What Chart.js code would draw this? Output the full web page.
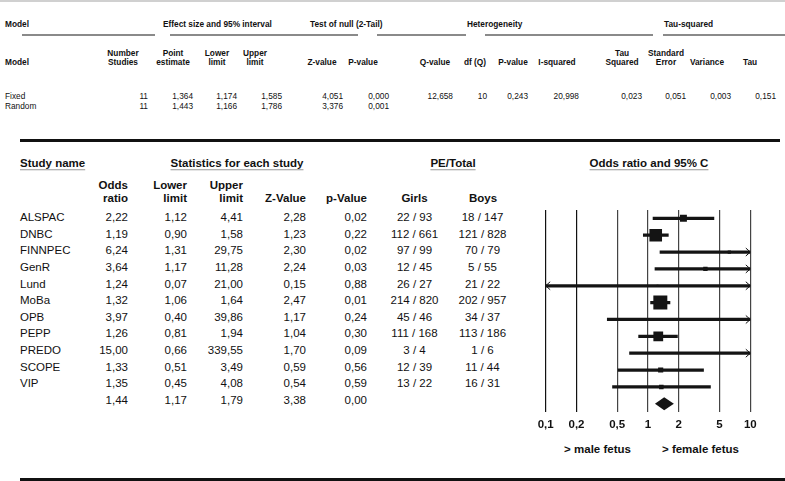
<!DOCTYPE html>
<html>
<head>
<meta charset="utf-8">
<script src="https://cdn.jsdelivr.net/npm/chart.js@4/dist/chart.umd.min.js"></script>
<style>
  html, body { margin: 0; padding: 0; background: #fff; }
  #page { position: relative; width: 785px; height: 481px; overflow: hidden; background: #fff; }
  .t { position: absolute; white-space: nowrap; line-height: 1; color: #111; }
  .top { font-family: "Liberation Sans", Arial, sans-serif; font-size: 8.3px; }
  .b { font-weight: bold; }
  .low { font-family: "Liberation Sans", Arial, sans-serif; font-size: 11.5px; }
  .u { text-decoration: underline; text-decoration-color: #999; text-underline-offset: 2px; }
  .rule { position: absolute; }
  #chartBox { position: absolute; left: 530px; top: 200px; width: 240px; height: 243px; }
</style>
</head>
<body>
<div id="page">
  <div id="chartBox"><canvas id="c" width="240" height="243"></canvas></div>
</div>
<script>
// ---------- data: summary (top) table ----------
const modelNames = ['Fixed', 'Random'];
const numberStudies = [11, 11];
const pointEstimate = [1.364, 1.443];
const modelLower = [1.174, 1.166];
const modelUpper = [1.585, 1.786];
const modelZ = [4.051, 3.376];
const modelP = [0.000, 0.001];
const qValue = 12.658;
const dfQ = 10;
const hetP = 0.243;
const iSquared = 20.998;
const tauSquared = 0.023;
const tauSE = 0.051;
const tauVariance = 0.003;
const tauValue = 0.151;

// ---------- data: study table / forest plot ----------
const studies = ['ALSPAC', 'DNBC', 'FINNPEC', 'GenR', 'Lund', 'MoBa', 'OPB', 'PEPP', 'PREDO', 'SCOPE', 'VIP'];
const oddsRatio = [2.22, 1.19, 6.24, 3.64, 1.24, 1.32, 3.97, 1.26, 15.00, 1.33, 1.35];
const lowerLimit = [1.12, 0.90, 1.31, 1.17, 0.07, 1.06, 0.40, 0.81, 0.66, 0.51, 0.45];
const upperLimit = [4.41, 1.58, 29.75, 11.28, 21.00, 1.64, 39.86, 1.94, 339.55, 3.49, 4.08];
const zValues = [2.28, 1.23, 2.30, 2.24, 0.15, 2.47, 1.17, 1.04, 1.70, 0.59, 0.54];
const pValues = [0.02, 0.22, 0.02, 0.03, 0.88, 0.01, 0.24, 0.30, 0.09, 0.56, 0.59];
const girlsPE = [22, 112, 97, 12, 26, 214, 45, 111, 3, 12, 13];
const girlsTotal = [93, 661, 99, 45, 27, 820, 46, 168, 4, 39, 22];
const boysPE = [18, 121, 70, 5, 21, 202, 34, 113, 1, 11, 16];
const boysTotal = [147, 828, 79, 55, 22, 957, 37, 186, 6, 44, 31];
// estimated relative weights (%) read from the square sizes
const relWeight = [8.2, 27.1, 1.8, 3.3, 0.55, 33.4, 0.84, 16.3, 0.46, 4.5, 3.5];
const summaryOR = 1.44;
const summaryLower = 1.17;
const summaryUpper = 1.79;
const summaryZ = 3.38;
const summaryP = 0.00;
const xTicks = [0.1, 0.2, 0.5, 1, 2, 5, 10];
const summaryLabel = 'Summary';

// ---------- helpers ----------
const page = document.getElementById('page');
function fmt(v, d) { return v.toFixed(d).replace('.', ','); }
function txt(x, y, s, align, cls) {
  const el = document.createElement('div');
  el.className = 't ' + cls;
  el.textContent = s;
  el.style.left = x + 'px';
  el.style.top = y + 'px';
  const tx = align === 'r' ? '-100%' : align === 'c' ? '-50%' : '0';
  el.style.transform = 'translate(' + tx + ',-50%)';
  page.appendChild(el);
  return el;
}
function rule(x, y, w, h, color) {
  const el = document.createElement('div');
  el.className = 'rule';
  el.style.left = x + 'px'; el.style.top = y + 'px';
  el.style.width = w + 'px'; el.style.height = h + 'px';
  el.style.background = color;
  page.appendChild(el);
}

// ---------- top table ----------
rule(0, 0, 785, 1.5, '#d0d0d0');
txt(5, 24, 'Model', 'l', 'top b');
txt(163, 24, 'Effect size and 95% interval', 'l', 'top b');
txt(310, 24, 'Test of null (2-Tail)', 'l', 'top b');
txt(467, 24, 'Heterogeneity', 'l', 'top b');
txt(664, 24, 'Tau-squared', 'l', 'top b');
[[22, 155], [170, 358], [377, 466], [485, 653], [663, 785]].forEach(s => rule(s[0], 34, s[1] - s[0], 1.5, '#8a8a8a'));

txt(5, 62, 'Model', 'l', 'top b');
const h2 = [
  [123, 'Number', 'Studies'], [173, 'Point', 'estimate'], [217, 'Lower', 'limit'], [255, 'Upper', 'limit'],
  [322, null, 'Z-value'], [363, null, 'P-value'], [435, null, 'Q-value'], [475, null, 'df (Q)'],
  [513, null, 'P-value'], [557, null, 'I-squared'], [622, 'Tau', 'Squared'], [666, 'Standard', 'Error'],
  [707, null, 'Variance'], [750, null, 'Tau']
];
h2.forEach(h => { if (h[1]) txt(h[0], 53, h[1], 'c', 'top b'); txt(h[0], 62, h[2], 'c', 'top b'); });

modelNames.forEach((m, i) => {
  const y = 96 + i * 10;
  txt(5, y, m, 'l', 'top');
  txt(148, y, String(numberStudies[i]), 'r', 'top');
  txt(193, y, fmt(pointEstimate[i], 3), 'r', 'top');
  txt(237, y, fmt(modelLower[i], 3), 'r', 'top');
  txt(282, y, fmt(modelUpper[i], 3), 'r', 'top');
  txt(343, y, fmt(modelZ[i], 3), 'r', 'top');
  txt(389, y, fmt(modelP[i], 3), 'r', 'top');
});
txt(453, 96, fmt(qValue, 3), 'r', 'top');
txt(487, 96, String(dfQ), 'r', 'top');
txt(528, 96, fmt(hetP, 3), 'r', 'top');
txt(579, 96, fmt(iSquared, 3), 'r', 'top');
txt(642, 96, fmt(tauSquared, 3), 'r', 'top');
txt(686, 96, fmt(tauSE, 3), 'r', 'top');
txt(731, 96, fmt(tauVariance, 3), 'r', 'top');
txt(776, 96, fmt(tauValue, 3), 'r', 'top');

rule(20, 139, 760, 3, '#111');
rule(20, 477.5, 765, 3.5, '#111');

// ---------- lower table ----------
txt(20, 164, 'Study name', 'l', 'low b u');
txt(237, 164, 'Statistics for each study', 'c', 'low b u');
txt(453, 164, 'PE/Total', 'c', 'low b u');
txt(649, 164, 'Odds ratio and 95% C', 'c', 'low b u');
txt(128, 186, 'Odds', 'r', 'low b');
txt(128, 199, 'ratio', 'r', 'low b');
txt(187, 186, 'Lower', 'r', 'low b');
txt(187, 199, 'limit', 'r', 'low b');
txt(243, 186, 'Upper', 'r', 'low b');
txt(243, 199, 'limit', 'r', 'low b');
txt(306, 199, 'Z-Value', 'r', 'low b');
txt(367, 199, 'p-Value', 'r', 'low b');
txt(414.5, 199, 'Girls', 'c', 'low b');
txt(483, 199, 'Boys', 'c', 'low b');

const rowY = i => 218 + 16.64 * i;
studies.forEach((s, i) => {
  const y = rowY(i);
  txt(20, y, s, 'l', 'low');
  txt(128, y, fmt(oddsRatio[i], 2), 'r', 'low');
  txt(187, y, fmt(lowerLimit[i], 2), 'r', 'low');
  txt(243, y, fmt(upperLimit[i], 2), 'r', 'low');
  txt(306, y, fmt(zValues[i], 2), 'r', 'low');
  txt(367, y, fmt(pValues[i], 2), 'r', 'low');
  txt(414.5, y, girlsPE[i] + ' / ' + girlsTotal[i], 'c', 'low');
  txt(482.5, y, boysPE[i] + ' / ' + boysTotal[i], 'c', 'low');
});
{
  const y = rowY(studies.length);
  txt(128, y, fmt(summaryOR, 2), 'r', 'low');
  txt(187, y, fmt(summaryLower, 2), 'r', 'low');
  txt(243, y, fmt(summaryUpper, 2), 'r', 'low');
  txt(306, y, fmt(summaryZ, 2), 'r', 'low');
  txt(367, y, fmt(summaryP, 2), 'r', 'low');
}
txt(597.5, 450, '> male fetus', 'c', 'low b');
txt(700.5, 450, '> female fetus', 'c', 'low b');

// ---------- forest plot ----------
const yLabels = studies.concat([summaryLabel]);
const XMIN = xTicks[0], XMAX = xTicks[xTicks.length - 1];
const INK = '#141414';

const extrasPlugin = {
  id: 'forestExtras',
  afterDatasetsDraw(chart) {
    const { ctx, chartArea: a, scales: { x, y } } = chart;
    ctx.save();
    ctx.strokeStyle = INK; ctx.lineWidth = 1;
    studies.forEach((s, i) => {
      const yc = y.getPixelForValue(i);
      if (lowerLimit[i] < XMIN) {
        ctx.beginPath();
        ctx.moveTo(a.left + 4.5, yc - 4); ctx.lineTo(a.left, yc); ctx.lineTo(a.left + 4.5, yc + 4);
        ctx.stroke();
      }
      if (upperLimit[i] > XMAX) {
        ctx.beginPath();
        ctx.moveTo(a.right - 4.5, yc - 4); ctx.lineTo(a.right, yc); ctx.lineTo(a.right - 4.5, yc + 4);
        ctx.stroke();
      }
    });
    const yc = y.getPixelForValue(studies.length);
    const xl = x.getPixelForValue(summaryLower), xm = x.getPixelForValue(summaryOR), xr = x.getPixelForValue(summaryUpper);
    ctx.fillStyle = INK;
    ctx.beginPath();
    ctx.moveTo(xl, yc); ctx.lineTo(xm, yc - 6.5); ctx.lineTo(xr, yc); ctx.lineTo(xm, yc + 6.5);
    ctx.closePath(); ctx.fill();
    ctx.restore();
  }
};

new Chart(document.getElementById('c'), {
  type: 'bar',
  data: {
    labels: yLabels,
    datasets: [
      {
        type: 'bar',
        indexAxis: 'y',
        data: studies.map((s, i) => [lowerLimit[i], upperLimit[i]]),
        backgroundColor: INK,
        borderWidth: 0,
        barThickness: 2.6,
        clip: 0,
        order: 2
      },
      {
        type: 'scatter',
        data: studies.map((s, i) => ({ x: oddsRatio[i], y: s })),
        pointStyle: 'rect',
        backgroundColor: INK,
        borderWidth: 0,
        pointRadius: ctx => (2.42 * Math.sqrt(relWeight[ctx.dataIndex])) / Math.SQRT2,
        pointHoverRadius: ctx => (2.42 * Math.sqrt(relWeight[ctx.dataIndex])) / Math.SQRT2,
        clip: 0,
        order: 1
      }
    ]
  },
  options: {
    responsive: false,
    animation: false,
    events: [],
    layout: { padding: { left: 15.7, right: 19.7, top: 9.7, bottom: 5 } },
    plugins: { legend: { display: false }, tooltip: { enabled: false } },
    scales: {
      x: {
        type: 'logarithmic',
        min: XMIN, max: XMAX,
        offset: false,
        afterBuildTicks: sc => { sc.ticks = xTicks.map(v => ({ value: v })); },
        border: { display: false },
        grid: {
          offset: false,
          drawTicks: false,
          lineWidth: 1.2,
          color: c => (c.tick && c.tick.value <= 0.2) ? '#111' : '#444'
        },
        ticks: {
          padding: 6,
          color: '#111',
          autoSkip: false,
          maxRotation: 0,
          font: { family: '"Liberation Sans", Arial, sans-serif', size: 11.5, weight: 'bold' },
          callback: v => String(v).replace('.', ',')
        }
      },
      y: {
        type: 'category',
        labels: yLabels,
        offset: true,
        grid: { offset: true },
        display: false
      }
    }
  },
  plugins: [extrasPlugin]
});
</script>
</body>
</html>
